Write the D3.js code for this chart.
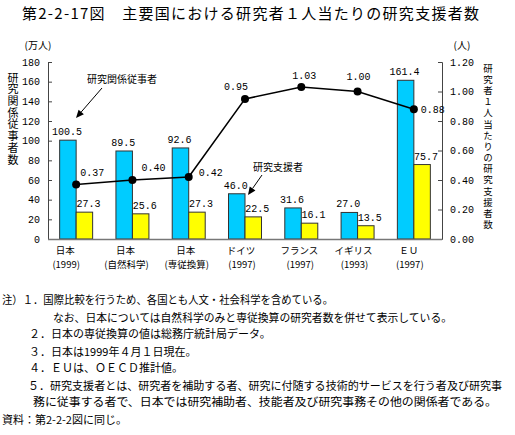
<!DOCTYPE html>
<html><head><meta charset="utf-8">
<script src="https://cdn.jsdelivr.net/npm/d3@7"></script>
<style>
body{margin:0;background:#fff;}
svg{display:block;}
text{font-family:"Noto Sans CJK JP","Noto Sans",sans-serif;fill:#000;}
.num{font-family:"Liberation Mono","DejaVu Sans Mono",monospace;}
.vert{writing-mode:vertical-rl;text-orientation:upright;}
</style></head>
<body>
<svg id="c" width="515" height="435"></svg>
<script>
// ---- data ----
const categories = ["日本", "日本", "日本", "ドイツ", "フランス", "イギリス", "ＥＵ"];
const subLabels = ["(1999)", "(自然科学)", "(専従換算)", "(1997)", "(1997)", "(1993)", "(1997)"];
const researchStaff = [100.5, 89.5, 92.6, 46.0, 31.6, 27.0, 161.4];   // 研究関係従事者 (万人)
const supportStaff = [27.3, 25.6, 27.3, 22.5, 16.1, 13.5, 75.7];      // 研究支援者 (万人)
const supportPerResearcher = [0.37, 0.40, 0.42, 0.95, 1.03, 1.00, 0.88]; // 人
const leftTicks = [0, 20, 40, 60, 80, 100, 120, 140, 160, 180];
const rightTicks = [0, 0.2, 0.4, 0.6, 0.8, 1.0, 1.2];
const notes = [
  "注）１．国際比較を行うため、各国とも人文・社会科学を含めている。",
  "なお、日本については自然科学のみと専従換算の研究者数を併せて表示している。",
  "２．日本の専従換算の値は総務庁統計局データ。",
  "３．日本は1999年４月１日現在。",
  "４．ＥＵは、ＯＥＣＤ推計値。",
  "５．研究支援者とは、研究者を補助する者、研究に付随する技術的サービスを行う者及び研究事",
  "務に従事する者で、日本では研究補助者、技能者及び研究事務その他の関係者である。",
  "資料：第2-2-2図に同じ。"
];
// label placement (layout only)
const lineLabelOffsets = [[16,-12],[21,-13],[22,-5],[-9,-13],[3,-12],[1,-16],[19,0]];
const catLabelDx = [-11,-7,-3,-4,-2,-4,-5];
const noteLayout = [[2,304,331],[53,322,399],[29,338,null],[29,356,null],[29,372,null],[28,390,474],[33,406,464],[2,424,null]];

// ---- chart ----
const svg = d3.select("#c");
const L = 48, R = 442, T = 62, B = 239;
const x = d3.scaleBand().domain(d3.range(categories.length)).range([L, R]).paddingInner(0).paddingOuter(0);
const yL = d3.scaleLinear().domain([0, 180]).range([B, T]);
const yR = d3.scaleLinear().domain([0, 1.2]).range([B, T]);
const bw = x.bandwidth() * 0.293;
const cx = i => x(i) + x.bandwidth() / 2;

// title
svg.append("text").attr("x", 22).attr("y", 19).attr("font-size", 15).attr("textLength", 457)
  .attr("lengthAdjust", "spacing").text("第2-2-17図　主要国における研究者１人当たりの研究支援者数");

// unit labels
svg.append("text").attr("x", 38).attr("y", 49).attr("font-size", 10).attr("text-anchor", "middle").text("(万人)");
svg.append("text").attr("x", 462).attr("y", 49).attr("font-size", 10).attr("text-anchor", "middle").text("(人)");

// vertical titles
svg.append("text").attr("class", "vert").attr("x", 13).attr("y", 72).attr("font-size", 11)
  .style("letter-spacing", "0.7px").text("研究関係従事者数");
svg.append("text").attr("class", "vert").attr("x", 488).attr("y", 63.5).attr("font-size", 9.5)
  .style("letter-spacing", "1.65px").text("研究者１人当たりの研究支援者数");

// bars
const g = svg.append("g");
g.selectAll("rect.b").data(researchStaff).join("rect").attr("class", "b")
  .attr("x", (d, i) => cx(i) - bw).attr("y", d => yL(d)).attr("width", bw).attr("height", d => B - yL(d))
  .attr("fill", "#00CCFF").attr("stroke", "#333").attr("stroke-width", 1);
g.selectAll("rect.s").data(supportStaff).join("rect").attr("class", "s")
  .attr("x", (d, i) => cx(i)).attr("y", d => yL(d)).attr("width", bw).attr("height", d => B - yL(d))
  .attr("fill", "#FFFF00").attr("stroke", "#333").attr("stroke-width", 1);

// bar value labels
g.selectAll("text.bv").data(researchStaff).join("text").attr("class", "num bv")
  .attr("x", (d, i) => cx(i) - bw / 2 - 1).attr("y", d => yL(d) - 5).attr("font-size", 10)
  .attr("text-anchor", "middle").text(d => d3.format(".1f")(d));
g.selectAll("text.sv").data(supportStaff).join("text").attr("class", "num sv")
  .attr("x", (d, i) => cx(i) + bw / 2 + 4).attr("y", d => yL(d) - 5).attr("font-size", 10)
  .attr("text-anchor", "middle").text(d => d3.format(".1f")(d));

// axes
const axL = d3.axisLeft(yL).tickValues(leftTicks).tickSize(-4).tickPadding(8).tickFormat(d3.format("d"));
const gl = svg.append("g").attr("transform", `translate(${L},0)`).call(axL);
const axR = d3.axisRight(yR).tickValues(rightTicks).tickSize(-4).tickPadding(8).tickFormat(d3.format(".2f"));
const gr = svg.append("g").attr("transform", `translate(${R},0)`).call(axR);
[gl, gr].forEach(a => {
  a.select(".domain").attr("stroke", "#444");
  a.selectAll(".tick line").attr("stroke", "#444");
  a.selectAll(".tick text").attr("class", "num").attr("font-size", 10).attr("fill", "#000")
    .style("font-family", '"Liberation Mono","DejaVu Sans Mono",monospace');
});
svg.append("line").attr("x1", L).attr("x2", R).attr("y1", B + 0.5).attr("y2", B + 0.5)
  .attr("stroke", "#777").attr("stroke-width", 1.5);

// category labels
const cl = svg.append("g");
cl.selectAll("text.c1").data(categories).join("text").attr("class", "c1")
  .attr("x", (d, i) => cx(i) + catLabelDx[i]).attr("y", 254).attr("font-size", 9.5).attr("text-anchor", "middle").text(d => d);
cl.selectAll("text.c2").data(subLabels).join("text").attr("class", "c2")
  .attr("x", (d, i) => cx(i) + catLabelDx[i] + 1).attr("y", 268).attr("font-size", 9.5).attr("text-anchor", "middle").text(d => d);

// line
const line = d3.line().x((d, i) => cx(i)).y(d => yR(d));
svg.append("path").datum(supportPerResearcher).attr("d", line).attr("fill", "none").attr("stroke", "#000").attr("stroke-width", 1.6);
svg.append("g").selectAll("circle").data(supportPerResearcher).join("circle")
  .attr("cx", (d, i) => cx(i)).attr("cy", d => yR(d)).attr("r", 4).attr("fill", "#000");
svg.append("g").selectAll("text").data(supportPerResearcher).join("text").attr("class", "num")
  .attr("x", (d, i) => cx(i) + lineLabelOffsets[i][0]).attr("y", (d, i) => yR(d) + lineLabelOffsets[i][1] + 4)
  .attr("font-size", 10).attr("text-anchor", "middle").text(d => d3.format(".2f")(d));

// annotations with arrows
function arrow(x1, y1, x2, y2) {
  const ang = Math.atan2(y2 - y1, x2 - x1), len = 8, w = 3.5;
  const bx = x2 - len * Math.cos(ang), by = y2 - len * Math.sin(ang);
  svg.append("line").attr("x1", x1).attr("y1", y1).attr("x2", bx).attr("y2", by).attr("stroke", "#000").attr("stroke-width", 1);
  const px = -Math.sin(ang) * w, py = Math.cos(ang) * w;
  svg.append("path").attr("d", `M${x2},${y2}L${bx + px},${by + py}L${bx - px},${by - py}Z`).attr("fill", "#000");
}
svg.append("text").attr("x", 87).attr("y", 83).attr("font-size", 10).text("研究関係従事者");
arrow(102, 88, 76, 118);
svg.append("text").attr("x", 253).attr("y", 171).attr("font-size", 10).text("研究支援者");
arrow(262, 175, 248, 195);

// notes
svg.append("g").selectAll("text").data(notes).join("text")
  .attr("x", (d, i) => noteLayout[i][0]).attr("y", (d, i) => noteLayout[i][1]).attr("font-size", 11)
  .each(function (d, i) { if (noteLayout[i][2]) d3.select(this).attr("textLength", noteLayout[i][2]).attr("lengthAdjust", "spacingAndGlyphs"); })
  .text(d => d);
</script>
</body></html>
